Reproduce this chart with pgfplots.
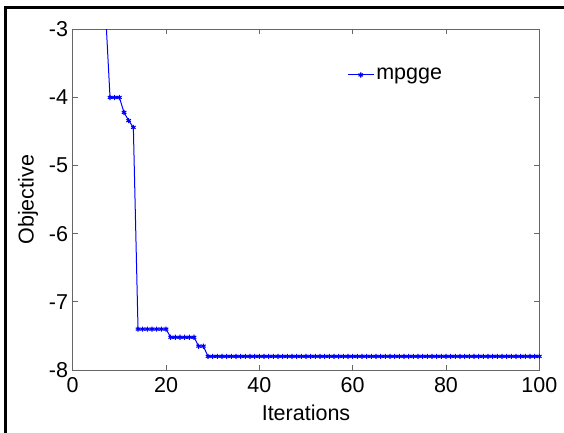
\documentclass[border=0pt]{standalone}
\usepackage{fontspec}
\setmainfont{Liberation Sans}
\usepackage{pgfplots}
\pgfplotsset{compat=1.18}
\begin{document}
\begin{tikzpicture}[x=1pt,y=1pt]
\useasboundingbox (0,0) rectangle (564,433);
\fill[white] (0,0) rectangle (564,433);
\draw[black, line width=2.6pt] (5.3,0) -- (5.3,425.7) -- (564,425.7);
\begin{axis}[
  at={(72.7pt,63pt)}, anchor=south west,
  scale only axis, width=466.6pt, height=340.7pt,
  xmin=0, xmax=100, ymin=-8, ymax=-3,
  xtick={0,20,40,60,80,100}, xticklabels={0,20,40,60,80,100},
  ytick={-8,-7,-6,-5,-4,-3}, yticklabels={-8,-7,-6,-5,-4,-3},
  tick align=inside, tick pos=both,
  major tick length=5pt,
  axis line style={black!60, line width=0.9pt},
  every tick/.style={black!60, line width=0.9pt},
  every tick label/.append style={font=\fontsize{21.5}{25}\selectfont, inner sep=0pt},
  xticklabel shift=7pt, yticklabel shift=4.5pt,
  xlabel={Iterations}, ylabel={Objective},
  label style={font=\fontsize{21.5}{25}\selectfont, inner sep=0pt},
  xlabel style={at={(axis description cs:0.5,-0.1468)}, anchor=base},
  ylabel style={at={(axis description cs:-0.084,0.5)}, anchor=base},
  legend style={draw=none, fill=none, inner sep=0pt, at={(0.588,0.866)}, anchor=west,
    font=\fontsize{21.5}{25}\selectfont, nodes={inner sep=2pt}},
  legend image code/.code={\draw[mark repeat=2, mark phase=2, #1] plot coordinates {(0pt,0pt) (13pt,0pt) (26pt,0pt)};},
  clip=true,
]
\addplot[blue, line width=1pt, mark=asterisk, mark size=2.6pt,
  mark options={line width=1.1pt}] coordinates {
(1,-0.8) (2,-1.2) (3,-1.5) (4,-1.8) (5,-2.1) (6,-2.5) (7,-2.7)
(8,-4.0) (9,-4.0) (10,-4.0) (11,-4.22) (12,-4.34) (13,-4.44)
(14,-7.40) (15,-7.40) (16,-7.40) (17,-7.40) (18,-7.40) (19,-7.40) (20,-7.40)
(21,-7.52) (22,-7.52) (23,-7.52) (24,-7.52) (25,-7.52) (26,-7.52)
(27,-7.65) (28,-7.65)
(29,-7.8) (30,-7.8) (31,-7.8) (32,-7.8) (33,-7.8) (34,-7.8) (35,-7.8) (36,-7.8) (37,-7.8) (38,-7.8)
(39,-7.8) (40,-7.8) (41,-7.8) (42,-7.8) (43,-7.8) (44,-7.8) (45,-7.8) (46,-7.8) (47,-7.8) (48,-7.8)
(49,-7.8) (50,-7.8) (51,-7.8) (52,-7.8) (53,-7.8) (54,-7.8) (55,-7.8) (56,-7.8) (57,-7.8) (58,-7.8)
(59,-7.8) (60,-7.8) (61,-7.8) (62,-7.8) (63,-7.8) (64,-7.8) (65,-7.8) (66,-7.8) (67,-7.8) (68,-7.8)
(69,-7.8) (70,-7.8) (71,-7.8) (72,-7.8) (73,-7.8) (74,-7.8) (75,-7.8) (76,-7.8) (77,-7.8) (78,-7.8)
(79,-7.8) (80,-7.8) (81,-7.8) (82,-7.8) (83,-7.8) (84,-7.8) (85,-7.8) (86,-7.8) (87,-7.8) (88,-7.8)
(89,-7.8) (90,-7.8) (91,-7.8) (92,-7.8) (93,-7.8) (94,-7.8) (95,-7.8) (96,-7.8) (97,-7.8) (98,-7.8)
(99,-7.8) (100,-7.8)
};
\addlegendentry{mpgge}
\end{axis}
\end{tikzpicture}
\end{document}
